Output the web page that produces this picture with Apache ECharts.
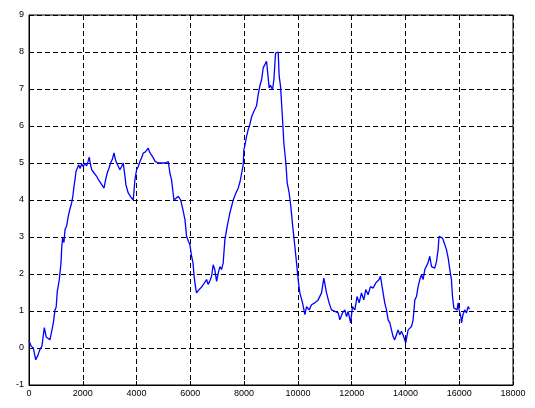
<!DOCTYPE html>
<html>
<head>
<meta charset="utf-8">
<script src="https://cdn.jsdelivr.net/npm/echarts@6/dist/echarts.min.js"></script>
<style>
  html, body { margin: 0; padding: 0; background: #fff; }
  #chart { width: 535px; height: 408px; }
</style>
</head>
<body>
<div id="chart"></div>
<script>
// Sample index of each reading
const sampleIndex = [
  0, 80, 160, 250, 330, 400, 480, 570, 640, 695, 780, 843, 905, 966, 1010, 1052, 1127, 1190,
  1220, 1250, 1300, 1340, 1400, 1460, 1520, 1585, 1630, 1673, 1720, 1747, 1797, 1850, 1900,
  1960, 2020, 2080, 2140, 2200, 2240, 2290, 2330, 2400, 2460, 2515, 2580, 2640, 2700, 2750,
  2790, 2850, 2910, 2970, 3035, 3100, 3160, 3230, 3320, 3380, 3440, 3505, 3560, 3605, 3690,
  3790, 3877, 3940, 4003, 4060, 4125, 4190, 4250, 4330, 4400, 4435, 4480, 4523, 4570, 4622,
  4680, 4745, 4800, 4870, 4950, 5055, 5120, 5180, 5240, 5300, 5340, 5390, 5470, 5550, 5640,
  5712, 5800, 5860, 5920, 5985, 6047, 6100, 6140, 6190, 6232, 6290, 6356, 6420, 6480, 6540,
  6605, 6660, 6720, 6790, 6850, 6910, 6977, 7040, 7100, 7160, 7222, 7285, 7371, 7471, 7595,
  7694, 7780, 7850, 7905, 7966, 7990, 8050, 8092, 8150, 8215, 8280, 8337, 8400, 8463, 8523,
  8590, 8650, 8710, 8772, 8835, 8895, 8932, 8980, 9020, 9057, 9107, 9170, 9267, 9305, 9355,
  9430, 9478, 9553, 9602, 9676, 9740, 9820, 9887, 9950, 10010, 10073, 10173, 10260, 10322,
  10420, 10508, 10630, 10753, 10880, 10965, 11000, 11065, 11160, 11250, 11375, 11500, 11560,
  11660, 11745, 11810, 11870, 11960, 12030, 12120, 12200, 12280, 12365, 12450, 12525, 12610,
  12700, 12800, 12900, 13020, 13070, 13150, 13230, 13295, 13355, 13420, 13480, 13540, 13600,
  13665, 13725, 13790, 13850, 13910, 13975, 14010, 14100, 14225, 14285, 14350, 14410, 14470,
  14535, 14595, 14655, 14720, 14780, 14840, 14905, 14970, 15030, 15090, 15155, 15215, 15250,
  15300, 15375, 15425, 15525, 15590, 15650, 15710, 15750, 15800, 15870, 15920, 15960, 15995,
  16060, 16085, 16140, 16205, 16270, 16330, 16380
];

// Measured value at each sample
const signal = [
  0.2, 0.05, 0.0, -0.32, -0.2, -0.05, 0.05, 0.55, 0.3, 0.3, 0.22, 0.45, 0.68, 1.03, 1.1, 1.53, 1.85, 2.3,
  2.75, 2.97, 2.85, 3.2, 3.3, 3.56, 3.75, 3.92, 4.1, 4.37, 4.6, 4.77, 4.86, 4.95, 4.85,
  4.98, 4.9, 5.0, 4.92, 5.05, 5.16, 4.95, 4.82, 4.75, 4.7, 4.64, 4.55, 4.5, 4.42, 4.38,
  4.32, 4.55, 4.73, 4.85, 5.0, 5.1, 5.27, 5.05, 4.91, 4.82, 4.9, 5.0, 4.7, 4.41, 4.19,
  4.08, 4.0, 4.55, 4.82, 4.9, 5.04, 5.15, 5.27, 5.3, 5.35, 5.4, 5.3, 5.31, 5.2, 5.14,
  5.05, 5.09, 5.0, 5.04, 5.0, 5.0, 4.95, 5.04, 4.73, 4.55, 4.5, 4.0, 4.05, 4.1, 4.0,
  3.78, 3.47, 3.02, 2.9, 2.79, 2.48, 2.3, 1.94, 1.66, 1.49, 1.55, 1.58, 1.65, 1.71, 1.75,
  1.85, 1.72, 1.8, 1.94, 2.25, 2.12, 1.8, 2.03, 2.2, 2.12, 2.3, 2.93, 3.29, 3.65, 4.0,
  4.19, 4.32, 4.5, 4.55, 4.95, 5.35, 5.55, 5.72, 5.9, 6.05, 6.25, 6.35, 6.45, 6.55, 6.85,
  7.1, 7.25, 7.57, 7.52, 7.75, 7.79, 7.03, 7.1, 7.12, 6.98, 7.25, 7.97, 8.0, 7.34, 7.07,
  6.17, 5.54, 5.0, 4.46, 4.19, 3.8, 3.2, 2.75, 2.3, 1.85, 1.49, 1.22, 0.9, 1.12,
  1.03, 1.17, 1.22, 1.3, 1.49, 1.89, 1.85, 1.49, 1.22, 1.03, 0.99, 0.95, 0.76,
  0.95, 1.03, 0.85, 0.99, 0.68, 1.12, 1.03, 1.39, 1.22, 1.49, 1.3, 1.58, 1.44,
  1.66, 1.62, 1.76, 1.85, 1.94, 1.58, 1.22, 1.03, 0.76, 0.68, 0.63, 0.31, 0.22,
  0.36, 0.49, 0.36, 0.45, 0.36, 0.41, 0.14, 0.49, 0.58, 0.76, 1.3, 1.39, 1.66,
  1.85, 1.98, 1.85, 2.12, 2.16, 2.3, 2.48, 2.2, 2.25, 2.16, 2.34, 2.66, 3.02,
  3.06, 2.97, 2.88, 2.66, 2.43, 2.12, 1.85, 1.39, 1.08, 1.12, 1.03, 1.22, 1.03,
  0.85, 0.68, 0.9, 1.03, 0.95, 1.12, 1.05
];

// Axis ranges and tick spacing
const xRange = [0, 18000];
const xStep = 2000;
const yRange = [-1, 9];
const yStep = 1;

const points = sampleIndex.map((x, i) => [x, signal[i]]);

const tickFont = { fontFamily: 'Liberation Sans, Arial, sans-serif', fontSize: 9, color: '#000' };
const dashed = { color: '#000', width: 1, type: [5, 3] };

const chart = echarts.init(document.getElementById('chart'), null, { renderer: 'canvas' });
chart.setOption({
  backgroundColor: '#fff',
  animation: false,
  grid: {
    left: 29, right: 22, top: 15, bottom: 23,
    show: true, borderColor: '#000', borderWidth: 1, backgroundColor: 'transparent'
  },
  xAxis: {
    type: 'value',
    min: xRange[0], max: xRange[1], interval: xStep,
    axisLine: { show: true, onZero: false, lineStyle: { color: '#000', width: 1 } },
    axisTick: { show: true, inside: true, length: 4, lineStyle: { color: '#000' } },
    axisLabel: Object.assign({ margin: 4, formatter: v => String(v) }, tickFont),
    splitLine: { show: true, lineStyle: dashed }
  },
  yAxis: {
    type: 'value',
    min: yRange[0], max: yRange[1], interval: yStep,
    axisLine: { show: true, onZero: false, lineStyle: { color: '#000', width: 1 } },
    axisTick: { show: true, inside: true, length: 4, lineStyle: { color: '#000' } },
    axisLabel: Object.assign({ margin: 5, formatter: v => String(v) }, tickFont),
    splitLine: { show: true, lineStyle: dashed }
  },
  series: [{
    type: 'line',
    data: points,
    showSymbol: false,
    symbol: 'none',
    lineStyle: { color: '#0000ff', width: 1.3 },
    z: 3
  }]
});
</script>
</body>
</html>
